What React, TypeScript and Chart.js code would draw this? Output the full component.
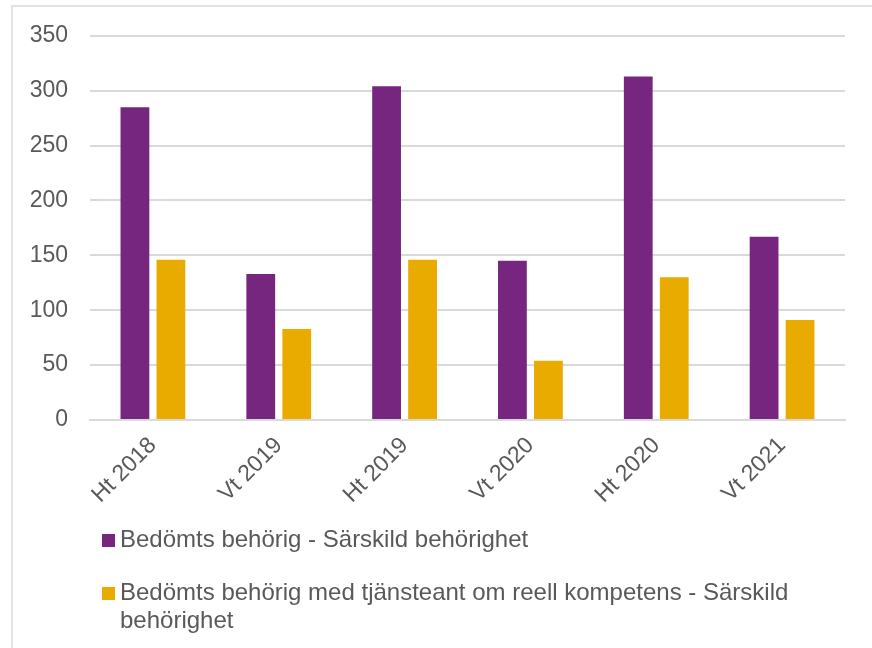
import React, { useEffect, useRef } from "react";
import { Chart, registerables } from "chart.js";

Chart.register(...registerables);

const categories = ["Ht 2018", "Vt 2019", "Ht 2019", "Vt 2020", "Ht 2020", "Vt 2021"];
const seriesNames = [
  "Bedömts behörig - Särskild behörighet",
  "Bedömts behörig med tjänsteant om reell kompetens - Särskild behörighet",
];
const behorig = [285, 133, 304, 145, 313, 167];
const reellKompetens = [146, 83, 146, 54, 130, 91];
const yTicks = [0, 50, 100, 150, 200, 250, 300, 350];

const PURPLE = "#76267F";
const ORANGE = "#EAAB00";
const TEXT = "#595959";
const FONT = "'Liberation Sans', Arial, sans-serif";

const legendPlugin = {
  id: "customLegend",
  afterDraw(chart: any) {
    const ctx = chart.ctx;
    ctx.save();
    ctx.font = `24px ${FONT}`;
    ctx.fillStyle = TEXT;
    ctx.textBaseline = "middle";
    const x0 = 102;
    const textX = 120;
    const maxW = 720;
    const lineH = 28;
    let y = 540;
    chart.data.datasets.forEach((ds: any) => {
      ctx.fillStyle = ds.backgroundColor;
      ctx.fillRect(x0, y - 6, 13, 13);
      ctx.fillStyle = TEXT;
      const words = String(ds.label).split(" ");
      const lines: string[] = [];
      let cur = "";
      words.forEach((w) => {
        const test = cur ? cur + " " + w : w;
        if (ctx.measureText(test).width > maxW && cur) {
          lines.push(cur);
          cur = w;
        } else cur = test;
      });
      if (cur) lines.push(cur);
      lines.forEach((ln, i) => ctx.fillText(ln, textX, y + i * lineH));
      y += 53 + (lines.length - 1) * lineH;
    });
    ctx.restore();
  },
};

export default function App() {
  const ref = useRef<HTMLCanvasElement>(null);
  useEffect(() => {
    if (!ref.current) return;
    const chart = new Chart(ref.current, {
      type: "bar",
      data: {
        labels: categories,
        datasets: [
          { label: seriesNames[0], data: behorig, backgroundColor: PURPLE, barPercentage: 0.8, categoryPercentage: 0.572 },
          { label: seriesNames[1], data: reellKompetens, backgroundColor: ORANGE, barPercentage: 0.8, categoryPercentage: 0.572 },
        ],
      },
      options: {
        animation: false,
        responsive: false,
        maintainAspectRatio: false,
        layout: { padding: { left: 20, right: 27, top: 35, bottom: 138 } },
        plugins: { legend: { display: false }, tooltip: { enabled: false } },
        scales: {
          x: {
            grid: { display: false, drawTicks: false },
            border: { display: true, color: "#d9d9d9", width: 2 },
            ticks: {
              color: TEXT,
              font: { size: 23, family: FONT },
              minRotation: 45,
              maxRotation: 45,
              padding: 12,
            },
            afterFit: (s: any) => { s.height = 90; },
          },
          y: {
            min: 0,
            max: 350,
            afterBuildTicks: (s: any) => { s.ticks = yTicks.map((v) => ({ value: v })); },
            grid: { color: "#d9d9d9", lineWidth: 2, drawTicks: false },
            border: { display: false },
            ticks: { color: TEXT, font: { size: 23, family: FONT }, padding: 22 },
            afterFit: (s: any) => { s.width = 70; },
          },
        },
      },
      plugins: [legendPlugin],
    });
    return () => chart.destroy();
  }, []);
  return (
    <div style={{ position: "fixed", left: 0, top: 0, width: 872, height: 648, background: "#fff" }}>
      <div style={{ position: "absolute", left: 11, top: 5, width: 900, height: 700, border: "2px solid #e2e2e2" }} />
      <canvas ref={ref} width={872} height={648} style={{ position: "absolute", left: 0, top: 0 }} />
    </div>
  );
}
